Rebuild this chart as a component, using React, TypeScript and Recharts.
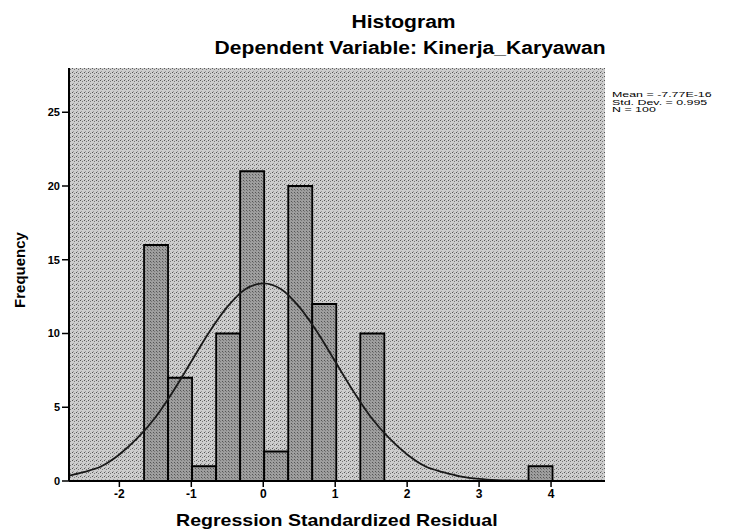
import React from 'react';
import {
  ComposedChart, Bar, Line, XAxis, YAxis, CartesianGrid,
} from 'recharts';

// histogram bins (bin centre on the residual axis) and their counts
const binCenters = [-1.49, -1.156, -0.822, -0.488, -0.154, 0.18, 0.514, 0.848, 1.182, 1.516, 3.854];
const binCounts = [16, 7, 1, 10, 21, 2, 20, 12, 0, 10, 1];

// normal curve
const curveX = [-2.75, -2.5, -2.25, -2, -1.75, -1.5, -1.25, -1, -0.75, -0.5, -0.25, 0,
  0.25, 0.5, 0.75, 1, 1.25, 1.5, 1.75, 2, 2.25, 2.5, 2.75, 3, 3.25, 3.5, 3.75, 4, 4.25, 4.5, 4.75];
const curveY = [0.3, 0.6, 1.0, 1.8, 2.9, 4.3, 6.1, 8.1, 10.1, 11.8, 13.0, 13.4,
  13.0, 11.8, 10.1, 8.1, 6.1, 4.3, 2.9, 1.8, 1.0, 0.6, 0.3, 0.14, 0.06, 0.03, 0.01, 0, 0, 0, 0];

const xTicks = [-2, -1, 0, 1, 2, 3, 4];
const yTicks = [0, 5, 10, 15, 20, 25];
const stats = ['Mean = -7.77E-16', 'Std. Dev. = 0.995', 'N = 100'];

const bins = binCenters.map((x, i) => ({ x, count: binCounts[i] }));
const curve = curveX.map((x, i) => ({ x, y: curveY[i] }));

const FONT = '"Liberation Sans", Arial, sans-serif';

export default function App() {
  return (
    <div style={{ position: 'absolute', left: 0, top: 0, width: 732, height: 531, background: '#fff', fontFamily: FONT }}>
      <ComposedChart
        width={732}
        height={531}
        data={bins}
        margin={{ top: 68, right: 127, bottom: 0, left: 0 }}
        barGap={0}
        barCategoryGap={0}
      >
        <defs>
          <pattern id="bgPat" width="4" height="4" patternUnits="userSpaceOnUse">
            <rect width="4" height="4" fill="#cdcdcd" />
            <rect x="0" y="0" width="1" height="1" fill="#555" />
            <rect x="2" y="1" width="1" height="1" fill="#777" />
            <rect x="1" y="3" width="1" height="1" fill="#999" />
          </pattern>
          <pattern id="barPat" width="3" height="3" patternUnits="userSpaceOnUse">
            <rect width="3" height="3" fill="#9e9e9e" />
            <rect x="0" y="0" width="1" height="1" fill="#555" />
            <rect x="1" y="1" width="1" height="1" fill="#777" />
          </pattern>
        </defs>
        <CartesianGrid fill="url(#bgPat)" horizontal={false} vertical={false} />
        <XAxis
          dataKey="x"
          type="number"
          domain={[-2.7, 4.75]}
          ticks={xTicks}
          height={50}
          axisLine={{ stroke: '#000', strokeWidth: 2 }}
          tickLine={{ stroke: '#000', strokeWidth: 1.5 }}
          tickSize={6}
          tick={{ fill: '#000', fontSize: 12, fontWeight: 'bold', fontFamily: FONT }}
          allowDataOverflow
        />
        <XAxis
          xAxisId="top"
          dataKey="x"
          orientation="top"
          type="number"
          domain={[-2.7, 4.75]}
          height={0}
          tick={false}
          tickLine={false}
          axisLine={{ stroke: '#000', strokeWidth: 2 }}
          allowDataOverflow
        />
        <YAxis
          domain={[0, 28]}
          ticks={yTicks}
          width={69}
          axisLine={{ stroke: '#000', strokeWidth: 2 }}
          tickLine={{ stroke: '#000', strokeWidth: 1.5 }}
          tickSize={7}
          tick={{ fill: '#000', fontSize: 11, fontWeight: 'bold', fontFamily: FONT }}
          allowDataOverflow
        />
        <YAxis
          yAxisId="right"
          orientation="right"
          domain={[0, 28]}
          width={0}
          tick={false}
          tickLine={false}
          axisLine={{ stroke: '#000', strokeWidth: 2 }}
          allowDataOverflow
        />
        <Bar
          dataKey="count"
          barSize={24}
          fill="url(#barPat)"
          stroke="#000"
          strokeWidth={1.8}
          isAnimationActive={false}
        />
        <Line
          xAxisId="top"
          data={curve}
          dataKey="y"
          type="monotone"
          stroke="#1a1a1a"
          strokeWidth={1.8}
          dot={false}
          activeDot={false}
          isAnimationActive={false}
        />
      </ComposedChart>

      <div style={{ position: 'absolute', left: 0, width: 808, top: 11, lineHeight: '22px', textAlign: 'center', fontSize: 18, fontWeight: 'bold' }}>
        <span style={{ display: 'inline-block', transform: 'scaleX(1.17)' }}>Histogram</span>
      </div>
      <div style={{ position: 'absolute', left: 0, width: 820, top: 37, lineHeight: '22px', textAlign: 'center', fontSize: 18, fontWeight: 'bold' }}>
        <span style={{ display: 'inline-block', transform: 'scaleX(1.17)' }}>Dependent Variable: Kinerja_Karyawan</span>
      </div>
      <div style={{ position: 'absolute', left: 0, width: 674, top: 510, lineHeight: '22px', textAlign: 'center', fontSize: 17, fontWeight: 'bold' }}>
        <span style={{ display: 'inline-block', transform: 'scaleX(1.15)' }}>Regression Standardized Residual</span>
      </div>
      <div
        style={{
          position: 'absolute', left: 20, top: 270, fontSize: 15, fontWeight: 'bold', lineHeight: '18px',
          transform: 'translate(-50%, -50%) rotate(-90deg)', whiteSpace: 'nowrap',
        }}
      >
        Frequency
      </div>
      <div style={{ position: 'absolute', left: 612, top: 91, fontSize: 8, lineHeight: '7.5px', transform: 'scaleX(1.55)', transformOrigin: 'left top', whiteSpace: 'nowrap' }}>
        {stats.map((s) => (
          <div key={s}>{s}</div>
        ))}
      </div>
    </div>
  );
}
